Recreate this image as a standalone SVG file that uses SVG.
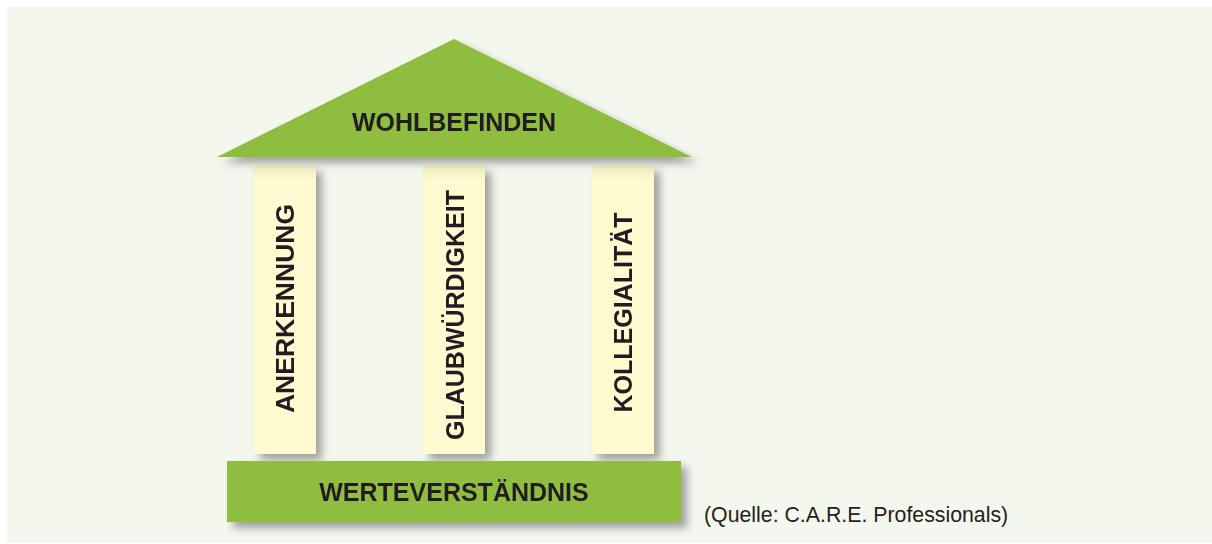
<svg xmlns="http://www.w3.org/2000/svg" width="1212" height="544" viewBox="0 0 1212 544">
<defs>
<filter id="sh" x="-20%" y="-20%" width="150%" height="160%">
<feDropShadow dx="6" dy="6" stdDeviation="4" flood-color="#000" flood-opacity="0.35"/>
</filter>
<linearGradient id="pg" x1="0" y1="0" x2="0" y2="1">
<stop offset="0" stop-color="#f3edc4"/>
<stop offset="0.06" stop-color="#fffad0"/>
<stop offset="1" stop-color="#fffad0"/>
</linearGradient>
<style>
.green{fill:#8fbd3f}
.pillar{fill:url(#pg)}
.lbl{font-family:"Liberation Sans",Arial,sans-serif;font-weight:bold;font-size:25px;fill:#231f20;text-anchor:middle}
.vlbl{font-size:26.5px}
.src{font-family:"Liberation Sans",Arial,sans-serif;font-size:21.3px;fill:#231f20}
</style>
</defs>
<rect x="0" y="0" width="1212" height="544" fill="#ffffff"/>
<rect x="7" y="7" width="1205" height="536" fill="#f4f7ee"/>
<g id="pillar-anerkennung" filter="url(#sh)">
<rect class="pillar" x="254" y="166" width="62" height="288"/>
<text class="lbl vlbl" transform="translate(294,308.5) rotate(-90)">ANERKENNUNG</text>
</g>
<g id="pillar-glaubwuerdigkeit" filter="url(#sh)">
<rect class="pillar" x="423" y="166" width="62" height="288"/>
<text class="lbl" transform="translate(464,315) rotate(-90)">GLAUBWÜRDIGKEIT</text>
</g>
<g id="pillar-kollegialitaet" filter="url(#sh)">
<rect class="pillar" x="592" y="166" width="62" height="288"/>
<text class="lbl" transform="translate(632,312.5) rotate(-90)">KOLLEGIALITÄT</text>
</g>
<g id="roof" filter="url(#sh)">
<polygon class="green" points="454,39 692,157 217,157"/>
<text class="lbl" x="454" y="131">WOHLBEFINDEN</text>
</g>
<g id="base" filter="url(#sh)">
<rect class="green" x="227" y="461" width="454" height="61"/>
<text class="lbl" x="454" y="501">WERTEVERSTÄNDNIS</text>
</g>
<g id="source">
<text class="src" x="704" y="522">(Quelle: C.A.R.E. Professionals)</text>
</g>
<g id="connectors"/>
</svg>
